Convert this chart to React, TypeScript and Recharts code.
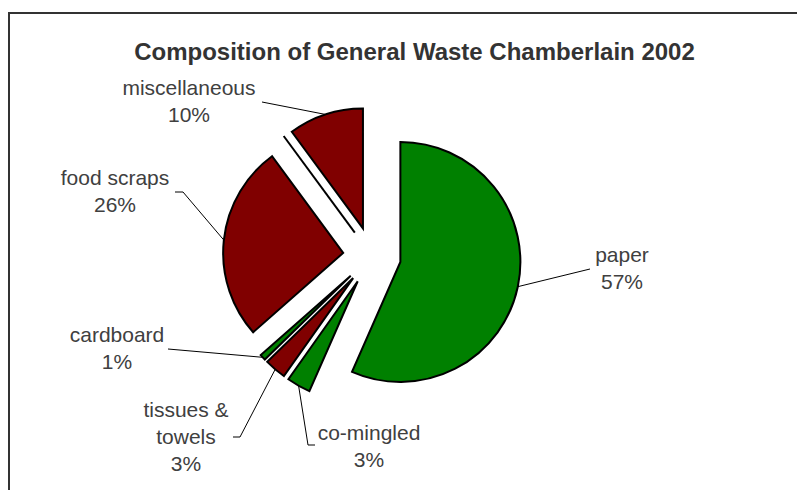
import { PieChart, Pie, Cell, Sector } from "recharts";

// shares in percent, clockwise from 12 o'clock (labels show them rounded)
const categories = ["paper", "co-mingled", "tissues & towels", "cardboard", "food scraps", "other", "miscellaneous"];
const shares = [56.6, 3.2, 2.9, 0.8, 26.4, 0, 10.1];

const COLORS = ["#008000", "#008000", "#800000", "#008000", "#800000", "#800000", "#800000"];

const RAD = Math.PI / 180;
const EXPLODE = 29;
const LINE_H = 27;
const FONT = '"Liberation Sans", Arial, sans-serif';

// label placement relative to the pie centre (text centre x, first baseline y, leader bends)
const LABEL_LAYOUT: Record<string, { x: number; y: number; lines?: string[]; leader: number[][] }> = {
  paper: { x: 250, y: 6, leader: [[218, 13]] },
  "co-mingled": { x: -3, y: 184, leader: [[-64, 189], [-57, 189]] },
  "tissues & towels": { x: -186, y: 161, lines: ["tissues &", "towels"], leader: [[-132, 181], [-139, 181]] },
  cardboard: { x: -255, y: 86, leader: [[-204, 93]] },
  "food scraps": { x: -257, y: -71, leader: [[-189, -64], [-197, -64]] },
  miscellaneous: { x: -183, y: -161, leader: [[-110, -154]] },
};

function ExplodedSlice(props: any) {
  const { cx, cy, midAngle, startAngle, endAngle, outerRadius } = props;
  const dx = EXPLODE * Math.cos(-midAngle * RAD);
  const dy = EXPLODE * Math.sin(-midAngle * RAD);
  if (Math.abs(endAngle - startAngle) < 1e-6) {
    // zero share: drawn by Excel as a single edge
    return (
      <line
        x1={cx + dx}
        y1={cy + dy}
        x2={cx + dx + outerRadius * Math.cos(-midAngle * RAD)}
        y2={cy + dy + outerRadius * Math.sin(-midAngle * RAD)}
        stroke="#000"
        strokeWidth={2}
      />
    );
  }
  return <Sector {...props} cx={cx + dx} cy={cy + dy} />;
}

function renderLabel(props: any) {
  const { cx, cy, midAngle, outerRadius, name, value, percent } = props;
  const lay = LABEL_LAYOUT[name];
  if (!value || !lay) return null;
  const r = outerRadius + EXPLODE;
  const sx = cx + r * Math.cos(-midAngle * RAD);
  const sy = cy + r * Math.sin(-midAngle * RAD);
  const pts = [[sx, sy], ...lay.leader.map(([x, y]) => [cx + x, cy + y])];
  const lines = [...(lay.lines ?? [name]), `${Math.round(percent * 100)}%`];
  return (
    <g>
      <polyline points={pts.map((p) => p.join(",")).join(" ")} fill="none" stroke="#000" strokeWidth={1} />
      <text textAnchor="middle" fontSize={21} fill="#404040" fontFamily={FONT}>
        {lines.map((l, i) => (
          <tspan key={i} x={cx + lay.x} y={cy + lay.y + i * LINE_H}>
            {l}
          </tspan>
        ))}
      </text>
    </g>
  );
}

export default function App() {
  const data = categories.map((name, i) => ({ name, value: shares[i] }));

  return (
    <div style={{ position: "relative", width: 797, height: 482, overflow: "hidden", fontFamily: FONT }}>
      <div
        style={{
          position: "absolute",
          left: 0,
          top: 4,
          width: 900,
          height: 600,
          borderTop: "2px solid #333",
          borderLeft: "2px solid #333",
        }}
      />
      <div
        style={{
          position: "absolute",
          left: 8,
          top: 32,
          width: 797,
          textAlign: "center",
          fontSize: 24,
          lineHeight: "24px",
          fontWeight: "bold",
          color: "#333",
        }}
      >
        Composition of General Waste Chamberlain 2002
      </div>
      <div style={{ position: "absolute", left: 0, top: 0 }}>
        <PieChart width={797} height={482}>
          <Pie
            data={data}
            dataKey="value"
            nameKey="name"
            cx={359}
            cy={243}
            outerRadius={120}
            startAngle={90}
            endAngle={-270}
            stroke="#000"
            strokeWidth={2}
            shape={ExplodedSlice}
            label={renderLabel}
            labelLine={false}
            isAnimationActive={false}
          >
            {data.map((d, i) => (
              <Cell key={d.name} fill={COLORS[i]} />
            ))}
          </Pie>
        </PieChart>
      </div>
    </div>
  );
}
